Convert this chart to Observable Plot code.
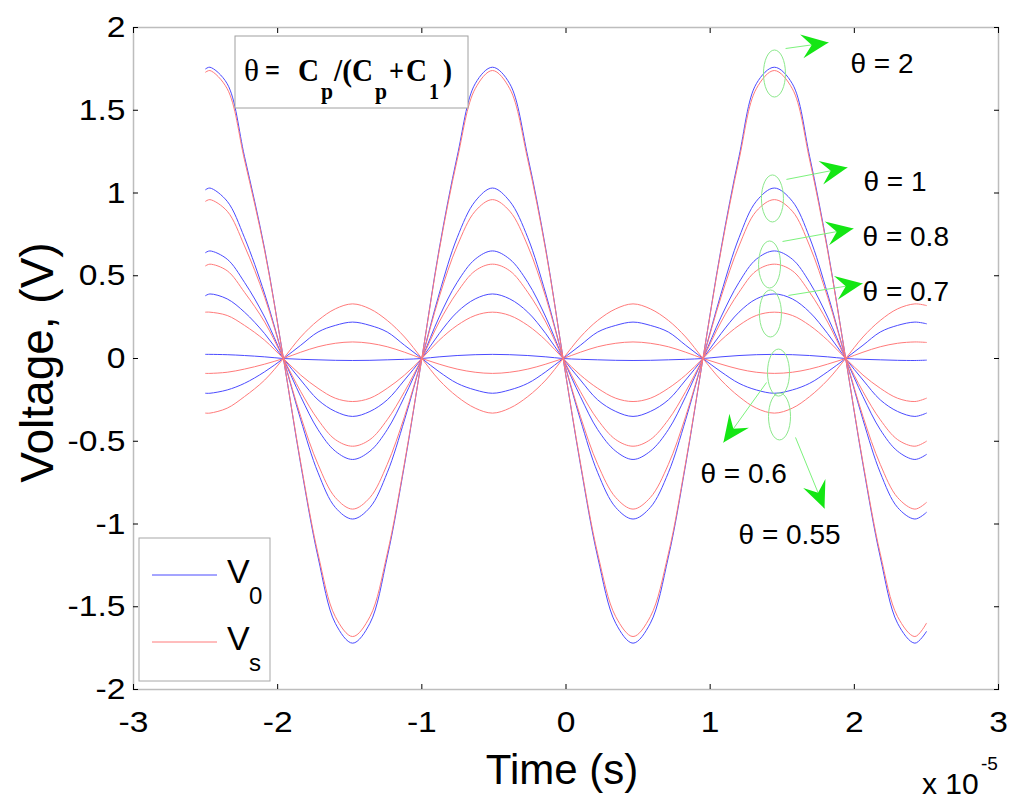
<!DOCTYPE html>
<html><head><meta charset="utf-8">
<script src="https://cdn.jsdelivr.net/npm/d3@7"></script>
<script src="https://cdn.jsdelivr.net/npm/@observablehq/plot@0.6"></script>
<style>body{margin:0;background:#fff}#chart{position:relative;width:1024px;height:812px}</style>
</head><body><div id="chart"></div>
<script>
// time axis in units of 1e-5 s
const time = [-2.50,-2.47,-2.35,-2.23,-2.09,-1.96,-1.84,-1.72,-1.60,-1.48,-1.36,-1.24,-1.12,-1.00,-0.88,-0.755,-0.63,-0.51,-0.39,-0.265,-0.14,-0.02,0.10,0.22,0.345,0.465,0.585,0.71,0.83,0.95,1.075,1.20,1.32,1.445,1.57,1.69,1.815,1.94,2.06,2.18,2.30,2.42,2.50];

const v0_theta2   = [1.75,1.76,1.66,1.22,0.66,0,-0.64,-1.20,-1.60,-1.72,-1.60,-1.20,-0.64,0,0.66,1.22,1.66,1.76,1.66,1.22,0.66,0,-0.64,-1.20,-1.60,-1.72,-1.60,-1.20,-0.64,0,0.66,1.22,1.66,1.76,1.66,1.22,0.66,0,-0.64,-1.20,-1.60,-1.72,-1.65];
const vs_theta2   = [1.73,1.74,1.63,1.20,0.65,0,-0.63,-1.18,-1.56,-1.68,-1.56,-1.18,-0.63,0,0.65,1.20,1.63,1.74,1.63,1.20,0.65,0,-0.63,-1.18,-1.56,-1.68,-1.56,-1.18,-0.63,0,0.65,1.20,1.63,1.74,1.63,1.20,0.65,0,-0.63,-1.18,-1.56,-1.68,-1.60];
const v0_theta1   = [1.02,1.03,0.95,0.73,0.39,0,-0.37,-0.69,-0.90,-0.97,-0.90,-0.69,-0.37,0,0.39,0.73,0.95,1.03,0.95,0.73,0.39,0,-0.37,-0.69,-0.90,-0.97,-0.90,-0.69,-0.37,0,0.39,0.73,0.95,1.03,0.95,0.73,0.39,0,-0.37,-0.69,-0.90,-0.97,-0.93];
const vs_theta1   = [0.95,0.96,0.89,0.68,0.37,0,-0.35,-0.64,-0.84,-0.91,-0.84,-0.64,-0.35,0,0.37,0.68,0.89,0.96,0.89,0.68,0.37,0,-0.35,-0.64,-0.84,-0.91,-0.84,-0.64,-0.35,0,0.37,0.68,0.89,0.96,0.89,0.68,0.37,0,-0.35,-0.64,-0.84,-0.91,-0.87];
const v0_theta08  = [0.64,0.65,0.60,0.46,0.25,0,-0.23,-0.43,-0.56,-0.61,-0.56,-0.43,-0.23,0,0.25,0.46,0.60,0.65,0.60,0.46,0.25,0,-0.23,-0.43,-0.56,-0.61,-0.56,-0.43,-0.23,0,0.25,0.46,0.60,0.65,0.60,0.46,0.25,0,-0.23,-0.43,-0.56,-0.61,-0.58];
const vs_theta08  = [0.56,0.57,0.53,0.40,0.22,0,-0.20,-0.37,-0.49,-0.53,-0.49,-0.37,-0.20,0,0.22,0.40,0.53,0.57,0.53,0.40,0.22,0,-0.20,-0.37,-0.49,-0.53,-0.49,-0.37,-0.20,0,0.22,0.40,0.53,0.57,0.53,0.40,0.22,0,-0.20,-0.37,-0.49,-0.53,-0.50];
const v0_theta07  = [0.38,0.39,0.36,0.28,0.15,0,-0.13,-0.25,-0.32,-0.35,-0.32,-0.25,-0.13,0,0.15,0.28,0.36,0.39,0.36,0.28,0.15,0,-0.13,-0.25,-0.32,-0.35,-0.32,-0.25,-0.13,0,0.15,0.28,0.36,0.39,0.36,0.28,0.15,0,-0.13,-0.25,-0.32,-0.35,-0.33];
const vs_theta07  = [0.28,0.28,0.26,0.20,0.11,0,-0.10,-0.18,-0.24,-0.26,-0.24,-0.18,-0.10,0,0.11,0.20,0.26,0.28,0.26,0.20,0.11,0,-0.10,-0.18,-0.24,-0.26,-0.24,-0.18,-0.10,0,0.11,0.20,0.26,0.28,0.26,0.20,0.11,0,-0.10,-0.18,-0.24,-0.26,-0.24];
const v0_theta06  = [0.025,0.025,0.023,0.018,0.010,0,-0.005,-0.008,-0.011,-0.012,-0.011,-0.008,-0.005,0,0.010,0.018,0.023,0.025,0.023,0.018,0.010,0,-0.005,-0.008,-0.011,-0.012,-0.011,-0.008,-0.005,0,0.010,0.018,0.023,0.025,0.023,0.018,0.010,0,-0.005,-0.008,-0.011,-0.012,-0.010];
const vs_theta06  = [-0.090,-0.090,-0.083,-0.064,-0.034,0,0.038,0.071,0.092,0.100,0.092,0.071,0.038,0,-0.034,-0.064,-0.083,-0.090,-0.083,-0.064,-0.034,0,0.038,0.071,0.092,0.100,0.092,0.071,0.038,0,-0.034,-0.064,-0.083,-0.090,-0.083,-0.064,-0.034,0,0.038,0.071,0.092,0.100,0.097];
const v0_theta055 = [-0.21,-0.21,-0.19,-0.15,-0.08,0,0.08,0.16,0.20,0.22,0.20,0.16,0.08,0,-0.08,-0.15,-0.19,-0.21,-0.19,-0.15,-0.08,0,0.08,0.16,0.20,0.22,0.20,0.16,0.08,0,-0.08,-0.15,-0.19,-0.21,-0.19,-0.15,-0.08,0,0.08,0.16,0.20,0.22,0.21];
const vs_theta055 = [-0.33,-0.33,-0.30,-0.23,-0.13,0,0.13,0.23,0.30,0.33,0.30,0.23,0.13,0,-0.13,-0.23,-0.30,-0.33,-0.30,-0.23,-0.13,0,0.13,0.23,0.30,0.33,0.30,0.23,0.13,0,-0.13,-0.23,-0.30,-0.33,-0.30,-0.23,-0.13,0,0.13,0.23,0.30,0.33,0.32];

const xTicks = [-3,-2,-1,0,1,2,3];
const yTicks = [-2,-1.5,-1,-0.5,0,0.5,1,1.5,2];

// annotations (data units)
const annotLabels = ["θ = 2","θ = 1","θ = 0.8","θ = 0.7","θ = 0.6","θ = 0.55"];
const ellipseX = [1.446,1.432,1.412,1.418,1.474,1.481];
const ellipseY = [1.722,0.967,0.568,0.272,-0.085,-0.350];
const arrowX1 = [1.523,1.529,1.502,1.543,1.391,1.592];
const arrowY1 = [1.873,1.082,0.707,0.381,-0.145,-0.477];
const arrowX2 = [1.821,1.952,1.994,2.057,1.092,1.793];
const arrowY2 = [1.909,1.154,0.785,0.453,-0.508,-0.906];
const labelX = [1.973,2.063,2.057,2.057,0.933,1.197];
const labelY = [1.782,1.069,0.731,0.399,-0.701,-1.069];

const series = [
  {kind:"V0", theta:"2", values:v0_theta2},   {kind:"Vs", theta:"2", values:vs_theta2},
  {kind:"V0", theta:"1", values:v0_theta1},   {kind:"Vs", theta:"1", values:vs_theta1},
  {kind:"V0", theta:"0.8", values:v0_theta08}, {kind:"Vs", theta:"0.8", values:vs_theta08},
  {kind:"V0", theta:"0.7", values:v0_theta07}, {kind:"Vs", theta:"0.7", values:vs_theta07},
  {kind:"V0", theta:"0.6", values:v0_theta06}, {kind:"Vs", theta:"0.6", values:vs_theta06},
  {kind:"V0", theta:"0.55", values:v0_theta055}, {kind:"Vs", theta:"0.55", values:vs_theta055}
];
const rows = series.flatMap(s => time.map((t, i) => ({t, v: s.values[i], kind: s.kind, key: s.kind + "_" + s.theta})));

const W = 1024, H = 812, mL = 133, mR = 26, mT = 27, mB = 123;
const xs = d3.scaleLinear([-3, 3], [mL, W - mR]);
const ys = d3.scaleLinear([-2, 2], [H - mB, mT]);

const annots = annotLabels.map((label, i) => ({
  label, ex: ellipseX[i], ey: ellipseY[i],
  x1: arrowX1[i], y1: arrowY1[i], x2: arrowX2[i], y2: arrowY2[i],
  lx: labelX[i], ly: labelY[i],
  angle: Math.atan2(ys(arrowY2[i]) - ys(arrowY1[i]), xs(arrowX2[i]) - xs(arrowX1[i])) * 180 / Math.PI
}));

const ellipseSymbol = {draw(ctx) {
  const rx = 11, ry = 23.5, k = 0.5523;
  ctx.moveTo(rx, 0);
  ctx.bezierCurveTo(rx, ry * k, rx * k, ry, 0, ry);
  ctx.bezierCurveTo(-rx * k, ry, -rx, ry * k, -rx, 0);
  ctx.bezierCurveTo(-rx, -ry * k, -rx * k, -ry, 0, -ry);
  ctx.bezierCurveTo(rx * k, -ry, rx, -ry * k, rx, 0);
  ctx.closePath();
}};
const headSymbol = {draw(ctx) {
  ctx.moveTo(0, 0); ctx.lineTo(-27, -12); ctx.lineTo(-17, 0); ctx.lineTo(-27, 12); ctx.closePath();
}};

const blue = "#4b4bff", red = "#ff7a7a";
const fmt = d => String(d);
const chart = Plot.plot({
  width: W, height: H, marginLeft: mL, marginRight: mR, marginTop: mT, marginBottom: mB,
  style: {fontFamily: "'Liberation Sans', Arial, sans-serif", background: "#fff", color: "#000", overflow: "visible"},
  x: {domain: [-3, 3], label: null},
  y: {domain: [-2, 2], label: null},
  marks: [
    Plot.frame({stroke: "#bdbdbd", strokeWidth: 1.5}),
    Plot.line(rows.filter(d => d.kind === "V0"), {x: "t", y: "v", z: "key", stroke: blue, strokeWidth: 1, curve: "catmull-rom"}),
    Plot.line(rows.filter(d => d.kind === "Vs"), {x: "t", y: "v", z: "key", stroke: red, strokeWidth: 1, curve: "catmull-rom"}),
    Plot.axisX(xTicks, {anchor: "bottom", tickSize: 0, tickPadding: 21, fontSize: 30, tickFormat: fmt, label: null}),
    Plot.axisX(xTicks, {anchor: "bottom", tickSize: -5, fill: "none", stroke: "#000"}),
    Plot.axisX(xTicks, {anchor: "top", tickSize: -5, fill: "none", stroke: "#000"}),
    Plot.axisY(yTicks, {anchor: "left", tickSize: 0, tickPadding: 8, fontSize: 30, tickFormat: fmt, label: null}),
    Plot.axisY(yTicks, {anchor: "left", tickSize: -5, fill: "none", stroke: "#000"}),
    Plot.axisY(yTicks, {anchor: "right", tickSize: -5, fill: "none", stroke: "#000"}),
    Plot.text(["Voltage, (V)"], {frameAnchor: "left", dx: -95, dy: 4, rotate: -90, fontSize: 46, textAnchor: "middle", lineAnchor: "middle"}),
    Plot.text(["Time (s)"], {frameAnchor: "bottom", dx: -4, dy: 81, fontSize: 42, textAnchor: "middle", lineAnchor: "middle"}),
    Plot.dot(annots, {x: "ex", y: "ey", symbol: ellipseSymbol, stroke: "#8be88b", fill: "none", strokeWidth: 1}),
    Plot.link(annots, {x1: "x1", y1: "y1", x2: "x2", y2: "y2", stroke: "#7cf27c", strokeWidth: 1}),
    Plot.dot(annots, {x: "x2", y: "y2", symbol: headSymbol, fill: "#14e614", stroke: "none", rotate: "angle"}),
    Plot.text(annots, {x: "lx", y: "ly", text: "label", textAnchor: "start", lineAnchor: "middle", fontSize: 28})
  ]
});
document.getElementById("chart").appendChild(chart);

// widen tick labels slightly, as in the reference
d3.select(chart).selectAll('g[aria-label$="tick label"] text').each(function() {
  const w = this.getComputedTextLength();
  if (w > 0) { this.setAttribute("textLength", (w * 1.12).toFixed(1)); this.setAttribute("lengthAdjust", "spacingAndGlyphs"); }
});

// formula box, legend, exponent (drawn into the same SVG)
const svg = d3.select(chart);
const g = svg.append("g").attr("font-family", "'Liberation Sans', Arial, sans-serif").attr("text-anchor", "start");
g.append("rect").attr("x", 235).attr("y", 36).attr("width", 233).attr("height", 72)
  .attr("fill", "#fff").attr("stroke", "#a0a0a0");
const pieces = [
  {t: "θ", x: 244, w: 15, bold: false}, {t: "=", x: 265, w: 15}, {t: "C", x: 298, w: 21},
  {t: "p", x: 321, w: 12, sub: true}, {t: "/(", x: 334, w: 18}, {t: "C", x: 352, w: 21}, {t: "p", x: 375, w: 12, sub: true},
  {t: "+", x: 389, w: 15}, {t: "C", x: 406, w: 21}, {t: "1", x: 429, w: 10, sub: true}, {t: ")", x: 443, w: 9}
];
pieces.forEach(p => {
  g.append("text").attr("x", p.x).attr("y", p.sub ? 99 : 81)
    .attr("font-family", "'Liberation Serif', 'Times New Roman', serif")
    .attr("font-size", p.sub ? 23 : 32)
    .attr("font-weight", p.bold === false ? "normal" : "bold")
    .attr("textLength", p.w).attr("lengthAdjust", "spacingAndGlyphs")
    .text(p.t);
});

g.append("rect").attr("x", 139).attr("y", 538).attr("width", 131).attr("height", 143)
  .attr("fill", "#fff").attr("stroke", "#a8a8a8");
const legendItems = [{name: "V", sub: "0", color: blue, y: 575}, {name: "V", sub: "s", color: red, y: 642}];
legendItems.forEach(it => {
  g.append("line").attr("x1", 152).attr("x2", 217).attr("y1", it.y).attr("y2", it.y).attr("stroke", it.color);
  g.append("text").attr("x", 227).attr("y", it.y + 8).attr("font-size", 34).text(it.name);
  g.append("text").attr("x", 249).attr("y", it.y + 29).attr("font-size", 24).text(it.sub);
});

g.append("text").attr("x", 922).attr("y", 794).attr("font-size", 30).text("x 10");
g.append("text").attr("x", 981).attr("y", 770).attr("font-size", 19).text("-5");
</script></body></html>
